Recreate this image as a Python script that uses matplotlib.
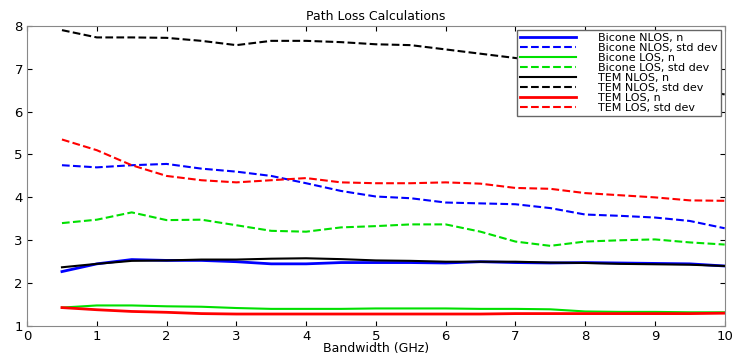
import matplotlib
matplotlib.use('Agg')
import matplotlib.pyplot as plt
import numpy as np

plt.rcParams['font.family'] = ['DejaVu Sans']

bw = [0.5, 1, 1.5, 2, 2.5, 3, 3.5, 4, 4.5, 5, 5.5, 6, 6.5, 7, 7.5, 8, 8.5, 9, 9.5, 10]

bicone_nlos_n = [2.27, 2.45, 2.55, 2.53, 2.53, 2.50, 2.45, 2.45, 2.48, 2.48,
                 2.48, 2.47, 2.50, 2.48, 2.47, 2.48, 2.47, 2.46, 2.45, 2.40]
bicone_nlos_sd = [4.75, 4.70, 4.75, 4.78, 4.67, 4.60, 4.50, 4.33, 4.15, 4.02,
                  3.98, 3.88, 3.86, 3.84, 3.75, 3.60, 3.57, 3.53, 3.45, 3.28]
bicone_los_n = [1.43, 1.48, 1.48, 1.46, 1.45, 1.42, 1.40, 1.40, 1.40, 1.41,
                1.41, 1.41, 1.40, 1.40, 1.39, 1.34, 1.33, 1.33, 1.32, 1.32]
bicone_los_sd = [3.40, 3.48, 3.65, 3.47, 3.48, 3.35, 3.22, 3.20, 3.30, 3.33,
                 3.37, 3.37, 3.20, 2.97, 2.87, 2.97, 3.00, 3.02, 2.95, 2.90]
tem_nlos_n = [2.37, 2.45, 2.52, 2.53, 2.55, 2.55, 2.57, 2.58, 2.56, 2.53,
              2.52, 2.50, 2.50, 2.50, 2.48, 2.47, 2.45, 2.44, 2.43, 2.40]
tem_nlos_sd = [7.90, 7.73, 7.73, 7.72, 7.65, 7.55, 7.65, 7.65, 7.62, 7.57,
               7.55, 7.45, 7.35, 7.25, 7.15, 7.00, 6.85, 6.70, 6.55, 6.40]
tem_los_n = [1.43, 1.38, 1.34, 1.32, 1.29, 1.28, 1.28, 1.28, 1.28, 1.28,
             1.28, 1.28, 1.28, 1.29, 1.29, 1.29, 1.29, 1.29, 1.29, 1.30]
tem_los_sd = [5.35, 5.10, 4.75, 4.50, 4.40, 4.35, 4.40, 4.45, 4.35, 4.33,
              4.33, 4.35, 4.32, 4.22, 4.20, 4.10, 4.05, 4.00, 3.93, 3.92]

fig = plt.figure(figsize=(7.32, 3.54), dpi=100)
ax = fig.add_axes([0.037, 0.079, 0.953, 0.848])

ax.plot(bw, bicone_nlos_n, color='blue', lw=2, label='Bicone NLOS, n')
ax.plot(bw, bicone_nlos_sd, color='blue', lw=1.5, ls='--', label='Bicone NLOS, std dev')
ax.plot(bw, bicone_los_n, color='#00e000', lw=1.5, label='Bicone LOS, n')
ax.plot(bw, bicone_los_sd, color='#00e000', lw=1.5, ls='--', label='Bicone LOS, std dev')
ax.plot(bw, tem_nlos_n, color='black', lw=1.5, label='TEM NLOS, n')
ax.plot(bw, tem_nlos_sd, color='black', lw=1.5, ls='--', label='TEM NLOS, std dev')
ax.plot(bw, tem_los_n, color='red', lw=2, label='TEM LOS, n')
ax.plot(bw, tem_los_sd, color='red', lw=1.5, ls='--', label='TEM LOS, std dev')

ax.set_xlim(0, 10)
ax.set_ylim(1, 8)
ax.set_xticks(np.arange(0, 11, 1))
ax.set_yticks(np.arange(1, 9, 1))
ax.tick_params(direction='in', top=True, right=True, labelsize=9.5, pad=3)
for s in ax.spines.values():
    s.set_color('#888888')

ax.set_title('Path Loss Calculations', fontsize=9, pad=4)
ax.set_xlabel('Bandwidth (GHz)', fontsize=9, labelpad=-1)

leg = ax.legend(loc='upper right', fontsize=8, frameon=True, fancybox=False,
                framealpha=1, edgecolor='#666666', borderaxespad=0.35,
                handlelength=5.0, handletextpad=2.0, labelspacing=0.0,
                borderpad=0.3)
leg.get_frame().set_linewidth(1)

fig.savefig('out.png', dpi=100)
